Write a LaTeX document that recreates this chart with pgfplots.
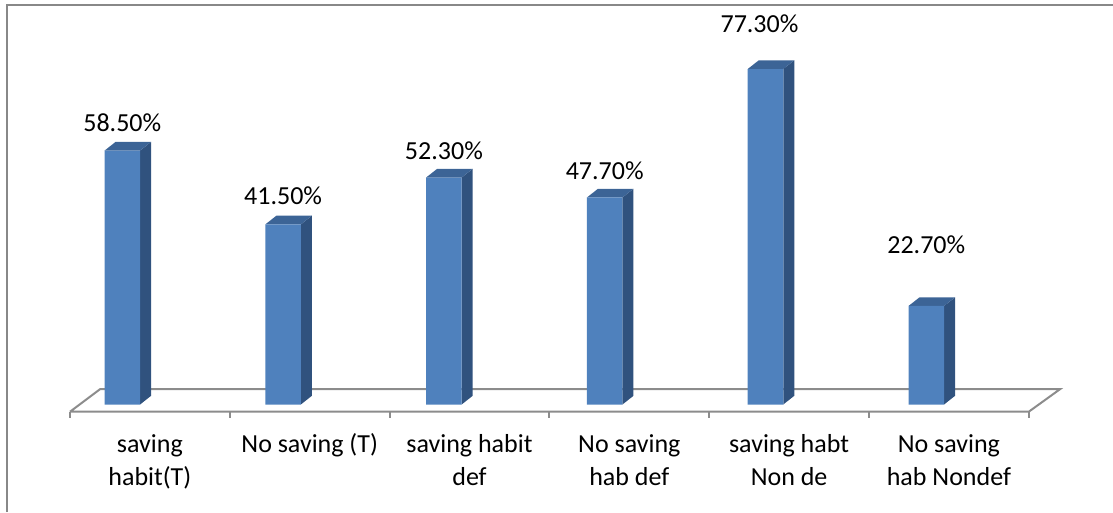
\documentclass[border=0pt]{standalone}
\usepackage{fontspec}
\setmainfont{Carlito}
\usepackage{pgfplots}
\usepackage{pgfplotstable}
\pgfplotsset{compat=1.18}

\definecolor{barfront}{HTML}{4F81BD}
\definecolor{bartop}{HTML}{3C6496}
\definecolor{barside}{HTML}{30527E}
\definecolor{floorline}{HTML}{8C8C8C}
\definecolor{frameline}{HTML}{888888}

% share of respondents per group; lift/nudge place the value labels (pt)
\pgfplotstableread{
idx value lift nudge
0 58.5 9.5 0
1 41.5 10.0 0
2 52.3 9.2 0
3 47.7 9.0 0
4 77.3 18.35 -3
5 22.7 26.35 0
}\savingdata

% half bar width, depth offsets (x in category units, y in percent)
\def\hw{0.1104}
\def\dxx{0.0684}
\def\dyy{2.0}

\newcommand{\catlabel}[3]{%
  \node[anchor=base, inner sep=0pt] at (axis cs:#1,-11.106) {#2};
  \node[anchor=base, inner sep=0pt] at (axis cs:#1,-18.548) {#3};
}

\begin{document}
\fontsize{13pt}{16pt}\selectfont
\begin{tikzpicture}
\begin{axis}[
  scale only axis,
  width=556.5pt, height=256pt,
  xmin=-0.7606, xmax=6.1611,
  ymin=-24.77, ymax=93.20,
  hide axis,
  clip=false,
  /pgf/number format/assume math mode=true,
]
% outer frame (left and top edges)
\addplot[frameline, line width=1pt] coordinates {(-0.7170,-24.77) (-0.7170,92.05) (6.1611,92.05)};

% floor of the 3-D plot area
\addplot[floorline, line width=1pt] coordinates {
  (-0.3252,-1.659) (5.6374,-1.659) (5.8315,3.525) (-0.1387,3.525) (-0.3252,-1.659)};
% category separators below the floor
\pgfplotsinvokeforeach{-0.3252,0.6685,1.6623,2.6561,3.6499,4.6437,5.6374}{
  \addplot[floorline, line width=1pt] coordinates {(#1,-1.659) (#1,-3.111)};
}

% side and top faces of each bar
\pgfplotsforeachungrouped \i in {0,...,5}{
  \pgfplotstablegetelem{\i}{value}\of\savingdata
  \let\v\pgfplotsretval
  \pgfmathsetmacro\xl{\i-\hw}
  \pgfmathsetmacro\xr{\i+\hw}
  \pgfmathsetmacro\xlb{\xl+\dxx}
  \pgfmathsetmacro\xrb{\xr+\dxx}
  \pgfmathsetmacro\vt{\v+\dyy}
  \edef\cmd{%
    \noexpand\addplot[fill=barside, draw=none] coordinates {(\xr,0) (\xrb,\dyy) (\xrb,\vt) (\xr,\v)} -- cycle;
    \noexpand\addplot[fill=bartop, draw=none] coordinates {(\xl,\v) (\xlb,\vt) (\xrb,\vt) (\xr,\v)} -- cycle;
  }
  \cmd
}

% front faces with value labels
\addplot[ybar, bar width=0.2208, fill=barfront, draw=none,
  visualization depends on={\thisrow{lift} \as \lift},
  visualization depends on={\thisrow{nudge} \as \nudge},
  nodes near coords={\pgfmathprintnumber[fixed, fixed zerofill, precision=2]{\pgfplotspointmeta}\%},
  every node near coord/.append style={anchor=base, yshift=\lift pt, xshift=\nudge pt,
    inner sep=0pt, black, font=\fontsize{13pt}{16pt}\selectfont},
] table[x=idx, y=value] {\savingdata};

\catlabel{0.1716}{saving}{habit(T)}
\catlabel{1.1654}{No saving (T)}{}
\catlabel{2.1592}{saving habit}{def}
\catlabel{3.1530}{No saving}{hab def}
\catlabel{4.1468}{saving habt}{Non de}
\catlabel{5.1405}{No saving}{hab Nondef}
\end{axis}
\pgfresetboundingbox
\path (current axis.south west) rectangle (current axis.north east);
\end{tikzpicture}
\end{document}
